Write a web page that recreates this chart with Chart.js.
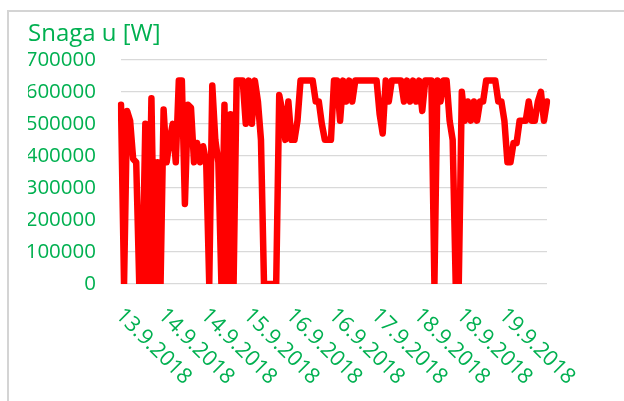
<!DOCTYPE html>
<html>
<head>
<meta charset="utf-8">
<script src="https://cdn.jsdelivr.net/npm/chart.js@4.4.1/dist/chart.umd.min.js"></script>
<style>
  html, body { margin: 0; padding: 0; background: #fff; }
  canvas { display: block; }
</style>
</head>
<body>
<canvas id="snagaChart" width="624" height="401"></canvas>
<script>
// date labels under the x axis, one every 14 samples
const tickLabels = ['13.9.2018', '14.9.2018', '14.9.2018', '15.9.2018', '16.9.2018',
                    '16.9.2018', '17.9.2018', '18.9.2018', '18.9.2018', '19.9.2018'];
const labelStep = 14;

// power in W
const snaga = [
  560000, 0, 540000, 510000, 390000, 380000, 0, 0, 500000, 0,
  580000, 0, 380000, 0, 545000, 380000, 450000, 500000, 380000, 635000,
  635000, 250000, 560000, 550000, 380000, 440000, 380000, 430000, 380000, 0,
  620000, 450000, 380000, 0, 560000, 0, 530000, 0, 635000, 635000,
  635000, 500000, 635000, 500000, 635000, 570000, 450000, 0, 0, 0,
  0, 0, 590000, 540000, 450000, 570000, 450000, 450000, 510000, 635000,
  635000, 635000, 635000, 635000, 570000, 570000, 500000, 450000, 450000, 450000,
  635000, 635000, 510000, 635000, 570000, 635000, 570000, 635000, 635000, 635000,
  635000, 635000, 635000, 635000, 635000, 530000, 470000, 635000, 570000, 635000,
  635000, 635000, 635000, 570000, 635000, 570000, 635000, 570000, 635000, 540000,
  635000, 635000, 635000, 0, 635000, 570000, 635000, 635000, 510000, 450000,
  0, 0, 600000, 510000, 570000, 510000, 570000, 510000, 570000, 570000,
  635000, 635000, 635000, 635000, 570000, 570000, 510000, 380000, 380000, 440000,
  440000, 510000, 510000, 510000, 570000, 510000, 510000, 570000, 600000, 510000,
  570000
];

const labels = snaga.map((v, i) => (i % labelStep === 0 ? (tickLabels[i / labelStep] || '') : ''));

const green = '#00B050';

// light grey frame round the chart (left and top edges are visible)
const frame = {
  id: 'frame',
  beforeDraw(chart) {
    const c = chart.ctx;
    c.save();
    c.strokeStyle = '#d4d4d4';
    c.lineWidth = 2;
    c.beginPath();
    c.moveTo(8, chart.height);
    c.lineTo(8, 11);
    c.lineTo(chart.width, 11);
    c.stroke();
    c.restore();
  }
};

// dates slanting down to the right, like the excel chart
const slantedLabels = {
  id: 'slantedLabels',
  afterDraw(chart) {
    const xs = chart.scales.x;
    const c = chart.ctx;
    c.save();
    c.fillStyle = green;
    c.font = '21.5px "Open Sans"';
    c.textAlign = 'left';
    c.textBaseline = 'middle';
    chart.data.labels.forEach((lab, i) => {
      if (!lab) return;
      const px = xs.getPixelForValue(i);
      c.save();
      c.translate(px - 2, xs.top + 28);
      c.rotate(Math.PI / 4);
      c.fillText(lab, 0, 0);
      c.restore();
    });
    c.restore();
  }
};

const ctx = document.getElementById('snagaChart').getContext('2d');
const snagaChart = new Chart(ctx, {
  type: 'line',
  data: {
    labels: labels,
    datasets: [{
      data: snaga,
      borderColor: '#FF0000',
      borderWidth: 6.5,
      borderJoinStyle: 'round',
      borderCapStyle: 'round',
      pointRadius: 0,
      tension: 0,
      fill: false
    }]
  },
  options: {
    responsive: false,
    animation: false,
    layout: { padding: { left: 28, right: 77, top: 0, bottom: 0 } },
    plugins: {
      legend: { display: false },
      tooltip: { enabled: false },
      title: {
        display: true,
        text: 'Snaga u [W]',
        align: 'start',
        color: green,
        font: { family: 'Open Sans', size: 24, weight: 'normal' },
        padding: { top: 20, bottom: 11 }
      }
    },
    scales: {
      x: {
        ticks: { display: false },
        grid: { display: false },
        border: { display: false },
        afterFit(scale) { scale.height = 117; }
      },
      y: {
        min: 0,
        max: 700000,
        ticks: {
          stepSize: 100000,
          color: green,
          padding: 25,
          font: { family: 'Open Sans', size: 20.5 },
          callback: v => String(v)
        },
        grid: { color: '#d9d9d9', lineWidth: 1.3, drawTicks: false },
        border: { display: false },
        afterFit(scale) { scale.width = 121 - 28; }
      }
    }
  },
  plugins: [frame, slantedLabels]
});
</script>
</body>
</html>
